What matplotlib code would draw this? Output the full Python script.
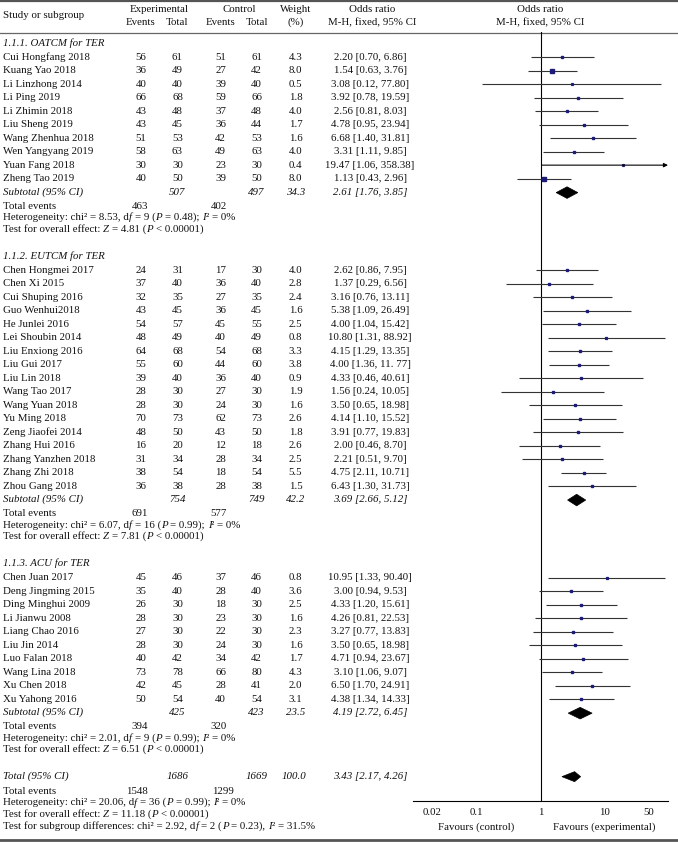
import matplotlib
matplotlib.use("Agg")
import matplotlib.pyplot as plt
from matplotlib.patches import Polygon
import numpy as np

plt.rcParams['font.family'] = ['Liberation Serif', 'DejaVu Serif']

# ---------------- data ----------------
g1_names = ["Cui Hongfang 2018", "Kuang Yao 2018", "Li Linzhong 2014", "Li Ping 2019",
            "Li Zhimin 2018", "Liu Sheng 2019", "Wang Zhenhua 2018", "Wen Yangyang 2019",
            "Yuan Fang 2018", "Zheng Tao 2019"]
g1_ee = [56, 36, 40, 66, 43, 43, 51, 58, 30, 40]
g1_et = [61, 49, 40, 68, 48, 45, 53, 63, 30, 50]
g1_ce = [51, 27, 39, 59, 37, 36, 42, 49, 23, 39]
g1_ct = [61, 42, 40, 66, 48, 44, 53, 63, 30, 50]
g1_w = [4.3, 8.0, 0.5, 1.8, 4.0, 1.7, 1.6, 4.0, 0.4, 8.0]
g1_or = [2.20, 1.54, 3.08, 3.92, 2.56, 4.78, 6.68, 3.31, 19.47, 1.13]
g1_lo = [0.70, 0.63, 0.12, 0.78, 0.81, 0.95, 1.40, 1.11, 1.06, 0.43]
g1_hi = [6.86, 3.76, 77.80, 19.59, 8.03, 23.94, 31.81, 9.85, 358.38, 2.96]

g2_names = ["Chen Hongmei 2017", "Chen Xi 2015", "Cui Shuping 2016", "Guo Wenhui2018",
            "He Junlei 2016", "Lei Shoubin 2014", "Liu Enxiong 2016", "Liu Gui 2017",
            "Liu Lin 2018", "Wang Tao 2017", "Wang Yuan 2018", "Yu Ming 2018",
            "Zeng Jiaofei 2014", "Zhang Hui 2016", "Zhang Yanzhen 2018", "Zhang Zhi 2018",
            "Zhou Gang 2018"]
g2_ee = [24, 37, 32, 43, 54, 48, 64, 55, 39, 28, 28, 70, 48, 16, 31, 38, 36]
g2_et = [31, 40, 35, 45, 57, 49, 68, 60, 40, 30, 30, 73, 50, 20, 34, 54, 38]
g2_ce = [17, 36, 27, 36, 45, 40, 54, 44, 36, 27, 24, 62, 43, 12, 28, 18, 28]
g2_ct = [30, 40, 35, 45, 55, 49, 68, 60, 40, 30, 30, 73, 50, 18, 34, 54, 38]
g2_w = [4.0, 2.8, 2.4, 1.6, 2.5, 0.8, 3.3, 3.8, 0.9, 1.9, 1.6, 2.6, 1.8, 2.6, 2.5, 5.5, 1.5]
g2_or = [2.62, 1.37, 3.16, 5.38, 4.00, 10.80, 4.15, 4.00, 4.33, 1.56, 3.50, 4.14, 3.91,
         2.00, 2.21, 4.75, 6.43]
g2_lo = [0.86, 0.29, 0.76, 1.09, 1.04, 1.31, 1.29, 1.36, 0.46, 0.24, 0.65, 1.10, 0.77,
         0.46, 0.51, 2.11, 1.30]
g2_hi = [7.95, 6.56, 13.11, 26.49, 15.42, 88.92, 13.35, 11.77, 40.61, 10.05, 18.98, 15.52,
         19.83, 8.70, 9.70, 10.71, 31.73]

g3_names = ["Chen Juan 2017", "Deng Jingming 2015", "Ding Minghui 2009", "Li Jianwu 2008",
            "Liang Chao 2016", "Liu Jin 2014", "Luo Falan 2018", "Wang Lina 2018",
            "Xu Chen 2018", "Xu Yahong 2016"]
g3_ee = [45, 35, 26, 28, 27, 28, 40, 73, 42, 50]
g3_et = [46, 40, 30, 30, 30, 30, 42, 78, 45, 54]
g3_ce = [37, 28, 18, 23, 22, 24, 34, 66, 28, 40]
g3_ct = [46, 40, 30, 30, 30, 30, 42, 80, 41, 54]
g3_w = [0.8, 3.6, 2.5, 1.6, 2.3, 1.6, 1.7, 4.3, 2.0, 3.1]
g3_or = [10.95, 3.00, 4.33, 4.26, 3.27, 3.50, 4.71, 3.10, 6.50, 4.38]
g3_lo = [1.33, 0.94, 1.20, 0.81, 0.77, 0.65, 0.94, 1.06, 1.70, 1.34]
g3_hi = [90.40, 9.53, 15.61, 22.53, 13.83, 18.98, 23.67, 9.07, 24.91, 14.33]

group_titles = ["1.1.1. OATCM for TER", "1.1.2. EUTCM for TER", "1.1.3. ACU for TER"]
sub_et = [507, 754, 425]
sub_ct = [497, 749, 423]
sub_w = [34.3, 42.2, 23.5]
sub_or = [2.61, 3.69, 4.19]
sub_lo = [1.76, 2.66, 2.72]
sub_hi = [3.85, 5.12, 6.45]
sub_ev_e = [463, 691, 394]
sub_ev_c = [402, 577, 320]
sub_chi2 = ["8.53", "6.07", "2.01"]
sub_df = [9, 16, 9]
sub_p = ["0.48", "0.99", "0.99"]
sub_i2 = ["0", "0", "0"]
sub_z = ["4.81", "7.81", "6.51"]

tot_et, tot_ct, tot_w = 1686, 1669, "100.0"
tot_or, tot_lo, tot_hi = 3.43, 2.17, 4.26
tot_ev_e, tot_ev_c = 1548, 1299
tot_chi2, tot_df, tot_p, tot_i2, tot_z = "20.06", 36, "0.99", "0", "11.18"
sg_chi2, sg_df, sg_p, sg_i2 = "2.92", 2, "0.23", "31.5"

tick_vals = [0.02, 0.1, 1, 10, 50]
tick_labels = ["0.02", "0.1", "1", "10", "50"]

groups = [
    (g1_names, g1_ee, g1_et, g1_ce, g1_ct, g1_w, g1_or, g1_lo, g1_hi),
    (g2_names, g2_ee, g2_et, g2_ce, g2_ct, g2_w, g2_or, g2_lo, g2_hi),
    (g3_names, g3_ee, g3_et, g3_ce, g3_ct, g3_w, g3_or, g3_lo, g3_hi),
]

# ---------------- layout ----------------
W, H = 678, 843
fig = plt.figure(figsize=(W / 100, H / 100), dpi=100)
ax0 = fig.add_axes([0, 0, 1, 1])
ax0.set_xlim(0, W)
ax0.set_ylim(H, 0)
ax0.axis('off')
renderer = fig.canvas.get_renderer()

AX_L, AX_R, AX_T, AX_B = 413, 668, 32, 801
ax = fig.add_axes([AX_L / W, (H - AX_B) / H, (AX_R - AX_L) / W, (AX_B - AX_T) / H])
ax.set_xscale('log')
ax.set_xlim(0.01, 100)
ax.set_ylim(AX_B, AX_T)
ax.patch.set_alpha(0)
for s in ['top', 'left', 'right']:
    ax.spines[s].set_visible(False)
ax.spines['bottom'].set_linewidth(0.8)
ax.set_yticks([])
ax.set_xticks(tick_vals)
ax.set_xticklabels(tick_labels)
ax.minorticks_off()
FS = 7.8
ax.tick_params(axis='x', length=0, pad=5, labelsize=FS, labelcolor='#111111')
ax.axvline(1, color='black', lw=0.8)

X_ST, X_EE, X_ET, X_CE, X_CT, X_W, X_OR = 3, 141, 177.5, 220.5, 256.5, 295.5, 370
TXT = '#111111'
SQ = '#1c1c78'
LN = '#333333'


def t(x, y, s, ha='center', style='normal'):
    return ax0.text(x, y, s, ha=ha, va='center', fontsize=FS, style=style, color=TXT)


_wcache = {}


def text_w(s, style):
    key = (s, style)
    if key not in _wcache:
        tt = ax0.text(0, 0, s, fontsize=FS, style=style)
        _wcache[key] = tt.get_window_extent(renderer).width
        tt.remove()
    return _wcache[key]


def seg_w(s, style):
    return text_w("|" + s + "|", style) - text_w("||", style)


def rich(x, y, segs):
    for s, it in segs:
        style = 'italic' if it else 'normal'
        core = s.lstrip()
        x += seg_w(s[:len(s) - len(core)], 'normal') if core != s else 0
        if core.strip():
            t(x, y, core.rstrip(), ha='left', style=style)
        x += seg_w(core, style)


def het_segs(chi2, df, p, i2, sep="; "):
    return [(f"Heterogeneity: chi² = {chi2}, d", False), ("f", True), (f" = {df} (", False),
            ("P", True), (f" = {p}){sep}", False), ("I", True), (f"² = {i2}%", False)]


def z_segs(z):
    return [("Test for overall effect: ", False), ("Z", True), (f" = {z} (", False),
            ("P", True), (" < 0.00001)", False)]


# header
t(X_ST, 15, "Study or subgroup", ha='left')
t(159, 9, "Experimental")
t(X_EE, 22.5, "Events"); t(X_ET, 22.5, "Total")
t(239, 9, "Control")
t(X_CE, 22.5, "Events"); t(X_CT, 22.5, "Total")
t(X_W, 9, "Weight"); t(X_W, 22.5, "(%)")
t(372, 9, "Odds ratio"); t(372, 22.5, "M-H, fixed, 95% CI")
t(540.5, 9, "Odds ratio"); t(540.5, 22.5, "M-H, fixed, 95% CI")

ax0.axhline(1, color='#555555', lw=1.6)
ax0.axhline(32.5, color='#666666', lw=0.9)
ax0.axhline(839.5, color='#555555', lw=2.0)


def fmt_ci(o, lo, hi):
    return f"{o:.2f} [{lo:.2f}, {hi:.2f}]"


def diamond(est, lo, hi, y, h):
    poly = Polygon([(lo, y), (est, y - h), (hi, y), (est, y + h)], closed=True,
                   facecolor='black', edgecolor='black', lw=0.5)
    ax.add_patch(poly)


y = 43.0
STEP = 13.48
for gi, (names, ee, et, ce, ct, w, orv, lo, hi) in enumerate(groups):
    t(X_ST, y, group_titles[gi], ha='left', style='italic')
    y += 14.3
    for i, nm in enumerate(names):
        t(X_ST, y, nm, ha='left')
        t(X_EE, y, str(ee[i])); t(X_ET, y, str(et[i]))
        t(X_CE, y, str(ce[i])); t(X_CT, y, str(ct[i]))
        t(X_W, y, f"{w[i]:.1f}")
        txt = fmt_ci(orv[i], lo[i], hi[i])
        if nm == "Liu Gui 2017":
            txt = "4.00 [1.36, 11. 77]"
        t(X_OR, y, txt)
        ms = 1.0 + 0.42 * np.sqrt(w[i])
        if hi[i] > 100:
            ax.annotate('', xy=(100, y), xytext=(lo[i], y),
                        arrowprops=dict(arrowstyle='-|>', lw=0.8, color='black',
                                        mutation_scale=6, shrinkA=0, shrinkB=0),
                        annotation_clip=False)
        else:
            ax.plot([lo[i], hi[i]], [y, y], color=LN, lw=0.8, solid_capstyle='butt')
        ax.plot([orv[i]], [y], marker='s', ms=ms, color=SQ, ls='none')
        y += STEP
    # subtotal
    t(X_ST, y, "Subtotal (95% CI)", ha='left', style='italic')
    t(X_ET, y, str(sub_et[gi]), style='italic')
    t(X_CT, y, str(sub_ct[gi]), style='italic')
    t(X_W, y, f"{sub_w[gi]:.1f}", style='italic')
    t(X_OR, y, fmt_ci(sub_or[gi], sub_lo[gi], sub_hi[gi]), style='italic')
    diamond(sub_or[gi], sub_lo[gi], sub_hi[gi], y + 0.5, 5.8)
    y += 14
    t(X_ST, y, "Total events", ha='left')
    t(140, y, str(sub_ev_e[gi])); t(218.5, y, str(sub_ev_c[gi]))
    y += 11.5
    rich(X_ST, y, het_segs(sub_chi2[gi], sub_df[gi], sub_p[gi], sub_i2[gi]))
    y += 11.5
    rich(X_ST, y, z_segs(sub_z[gi]))
    y += 27

# overall
t(X_ST, y, "Total (95% CI)", ha='left', style='italic')
t(X_ET, y, str(tot_et), style='italic')
t(X_CT, y, str(tot_ct), style='italic')
t(X_W - 2, y, tot_w, style='italic')
t(X_OR, y, fmt_ci(tot_or, tot_lo, tot_hi), style='italic')
diamond(tot_or, tot_lo, tot_hi, y, 5.0)
y += 14.5
t(X_ST, y, "Total events", ha='left')
t(137, y, str(tot_ev_e)); t(223, y, str(tot_ev_c))
y += 11.5
rich(X_ST, y, het_segs(tot_chi2, tot_df, tot_p, tot_i2))
y += 11.5
rich(X_ST, y, z_segs(tot_z))
y += 12
sg = het_segs(sg_chi2, sg_df, sg_p, sg_i2, sep=", ")
sg[0] = (f"Test for subgroup differences: chi² = {sg_chi2}, d", False)
rich(X_ST, y, sg)

t(476, 827, "Favours (control)")
t(604, 827, "Favours (experimental)")

fig.savefig("out.png", dpi=100)
